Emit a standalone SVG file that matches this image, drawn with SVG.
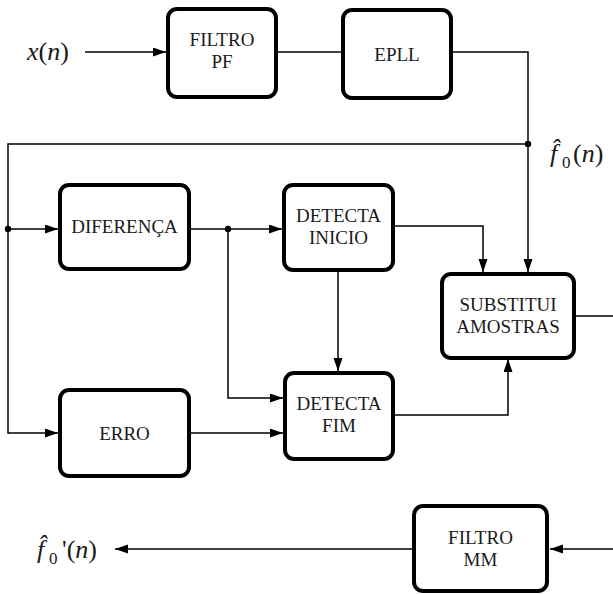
<svg xmlns="http://www.w3.org/2000/svg" width="613" height="594" viewBox="0 0 613 594">
  <defs>
    <marker id="arrow" markerUnits="userSpaceOnUse" markerWidth="14" markerHeight="10" refX="13" refY="4.5" orient="auto">
      <path d="M0,0 L13,4.5 L0,9 z" fill="#000"/>
    </marker>
    <style>
      text { font-family: 'Liberation Serif', 'Times New Roman', Times, serif; }
      .box { fill: #fff; stroke: #000; stroke-width: 4; }
      .lbl { font-size: 19px; fill: #1a1a1a; text-anchor: middle; }
      .math { font-size: 26px; fill: #1a1a1a; }
      .it { font-style: italic; }
      .wire { fill: none; stroke: #000; stroke-width: 1.5; }
      .arr { marker-end: url(#arrow); }
      .dot { fill: #000; }
    </style>
  </defs>

  <rect width="613" height="594" fill="#fff"/>

  <!-- connectors -->
  <g id="connectors">
    <path class="wire arr" d="M85,52 H166"/>
    <path class="wire" d="M278,52 H341"/>
    <path class="wire arr" d="M453,52 H528 V272"/>
    <path class="wire arr" d="M528,144 H8 V433 H58"/>
    <path class="wire arr" d="M8,229 H58"/>
    <path class="wire arr" d="M191,229 H282"/>
    <path class="wire arr" d="M228,229 V398 H283"/>
    <path class="wire arr" d="M395,226 H483 V272"/>
    <path class="wire arr" d="M338,271 V371"/>
    <path class="wire arr" d="M191,433 H283"/>
    <path class="wire arr" d="M395,415 H508 V359"/>
    <path class="wire arr" d="M576,316 H630 V549 H550"/>
    <path class="wire arr" d="M412,549 H115"/>
    <circle class="dot" cx="528" cy="144" r="3.2"/>
    <circle class="dot" cx="8" cy="229" r="3.2"/>
    <circle class="dot" cx="228" cy="229" r="3.2"/>
  </g>

  <!-- signal labels -->
  <g id="input-label">
    <text class="math" x="27" y="60"><tspan class="it">x</tspan>(<tspan class="it">n</tspan>)</text>
  </g>
  <g id="f0-label">
    <text class="math"><tspan class="it" x="550" y="162">f̂</tspan><tspan x="562" y="168" font-size="17">0</tspan><tspan x="573" y="162">(</tspan><tspan class="it">n</tspan>)</text>
  </g>
  <g id="f0-out-label">
    <text class="math"><tspan class="it" x="37" y="558">f̂</tspan><tspan x="49" y="564" font-size="17">0</tspan><tspan x="62" y="558">'(</tspan><tspan class="it">n</tspan>)</text>
  </g>

  <!-- blocks -->
  <g id="filtro-pf">
    <rect class="box" x="168" y="9" width="108" height="88" rx="9"/>
    <text class="lbl" x="222" y="46">FILTRO</text>
    <text class="lbl" x="222" y="68">PF</text>
  </g>
  <g id="epll">
    <rect class="box" x="343" y="10" width="108" height="88" rx="9"/>
    <text class="lbl" x="397" y="61">EPLL</text>
  </g>
  <g id="diferenca">
    <rect class="box" x="60" y="185" width="129" height="84" rx="9"/>
    <text class="lbl" x="124.5" y="233">DIFERENÇA</text>
  </g>
  <g id="detecta-inicio">
    <rect class="box" x="284" y="185" width="109" height="85" rx="9"/>
    <text class="lbl" x="338.5" y="222">DETECTA</text>
    <text class="lbl" x="338.5" y="244">INICIO</text>
  </g>
  <g id="substitui-amostras">
    <rect class="box" x="442" y="274" width="132" height="84" rx="9"/>
    <text class="lbl" x="508" y="311">SUBSTITUI</text>
    <text class="lbl" x="508" y="333">AMOSTRAS</text>
  </g>
  <g id="erro">
    <rect class="box" x="60" y="390" width="129" height="86" rx="9"/>
    <text class="lbl" x="124.5" y="440">ERRO</text>
  </g>
  <g id="detecta-fim">
    <rect class="box" x="285" y="373" width="108" height="86" rx="9"/>
    <text class="lbl" x="339" y="410">DETECTA</text>
    <text class="lbl" x="339" y="432">FIM</text>
  </g>
  <g id="filtro-mm">
    <rect class="box" x="414" y="506" width="133" height="85" rx="9"/>
    <text class="lbl" x="480.5" y="544">FILTRO</text>
    <text class="lbl" x="480.5" y="566">MM</text>
  </g>
</svg>
